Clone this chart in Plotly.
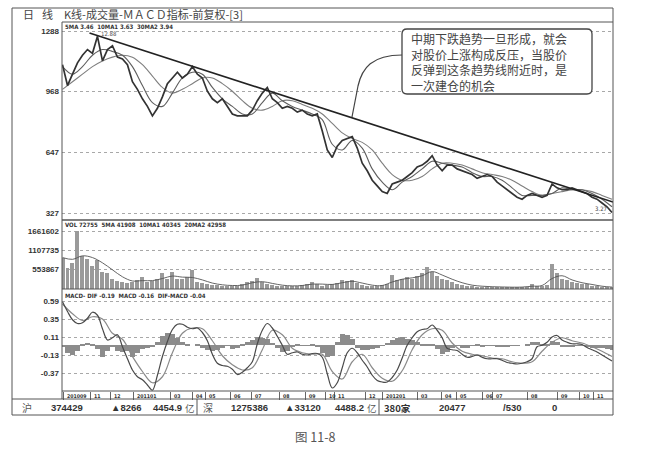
import plotly.graph_objects as go

W, H = 646, 451

# ---------------- data ----------------
# trading-day index of each sample (every 5th / 10th session)
days5 = list(range(0, 551, 5))
days10 = list(range(0, 551, 10))

close = [11.1, 10.0, 10.6, 11.2, 11.6, 11.9, 11.7, 12.6, 11.3, 11.9,
         12.1, 11.5, 11.4, 11.1, 10.2, 9.8, 9.3, 8.9, 8.4, 8.8,
         9.4, 10.1, 10.4, 10.7, 10.4, 10.6, 11.0, 10.6, 10.4, 9.7,
         9.3, 9.1, 9.3, 8.9, 8.5, 8.4, 8.4, 8.4, 8.7, 9.2,
         9.6, 9.9, 9.3, 9.1, 8.8, 8.9, 8.8, 8.6, 8.7, 8.5,
         8.4, 8.5, 7.6, 6.6, 6.2, 6.8, 7.1, 7.2, 7.3, 6.7,
         5.9, 5.5, 5.0, 4.7, 4.4, 4.3, 4.8, 4.9, 5.0, 5.2,
         5.4, 5.7, 5.8, 6.0, 6.3, 5.8, 5.5, 5.8, 5.8, 5.6,
         5.5, 5.4, 5.3, 5.1, 5.2, 5.3, 5.2, 4.9, 4.7, 4.5,
         4.3, 4.1, 4.0, 4.2, 4.3, 4.2, 4.1, 4.2, 4.8, 4.6,
         4.5, 4.5, 4.6, 4.5, 4.4, 4.3, 4.1, 4.0, 3.8, 3.6,
         3.3]

ma10 = [11.0, 10.6, 11.0, 11.6, 11.9, 11.8, 11.6, 11.0, 10.0, 9.1,
        8.9, 9.6, 10.4, 10.7, 10.6, 9.9, 9.3, 8.9, 8.5, 8.5,
        9.1, 9.6, 9.2, 8.9, 8.7, 8.5, 8.2, 6.9, 6.6, 7.1,
        6.7, 5.6, 4.9, 4.5, 4.9, 5.2, 5.6, 6.0, 5.9, 5.8,
        5.7, 5.4, 5.2, 5.2, 5.0, 4.6, 4.2, 4.2, 4.2, 4.3,
        4.6, 4.5, 4.5, 4.3, 4.0, 3.6]

ma30 = [9.8, 10.2, 10.6, 11.0, 11.3, 11.5, 11.6, 11.5, 11.1, 10.5,
        9.9, 9.6, 9.8, 10.1, 10.4, 10.4, 10.1, 9.7, 9.2, 8.8,
        8.7, 8.9, 9.2, 9.2, 9.0, 8.8, 8.5, 8.0, 7.5, 7.2,
        7.0, 6.6, 5.9, 5.3, 5.0, 5.0, 5.2, 5.6, 5.9, 5.9,
        5.8, 5.6, 5.4, 5.3, 5.2, 5.0, 4.7, 4.4, 4.2, 4.3,
        4.4, 4.5, 4.5, 4.4, 4.2, 4.0]

volume_k = [900, 600, 750, 1660, 950, 850, 650, 820, 500, 450,
            300, 220, 200, 180, 190, 250, 340, 200, 230, 280,
            450, 300, 480, 300, 280, 340, 540, 200, 160, 130,
            120, 110, 100, 90, 90, 100, 150, 200, 230, 310,
            200, 150, 110, 100, 90, 80, 80, 90, 120, 150,
            200, 130, 100, 120, 150, 180, 260, 220, 250, 180,
            120, 100, 90, 100, 110, 150, 400, 250, 280, 340,
            300, 380, 450, 630, 500, 380, 300, 250, 200, 150,
            120, 90, 80, 70, 70, 60, 60, 60, 55, 50,
            50, 50, 55, 60, 150, 100, 80, 120, 720, 450,
            300, 250, 200, 180, 150, 130, 100, 80, 60, 50,
            40]

vol_ma_k = [900, 850, 950, 900, 750, 550, 350, 230, 240, 240,
            300, 370, 340, 330, 260, 170, 120, 100, 110, 180,
            210, 160, 110, 90, 100, 140, 140, 130, 180, 220,
            170, 110, 100, 200, 280, 320, 380, 500, 400, 280,
            180, 110, 80, 65, 58, 52, 55, 80, 100, 300,
            380, 260, 180, 130, 80, 55]

dif = [0.58, 0.45, 0.34, 0.29, 0.30, 0.36, 0.44, 0.40, 0.22, 0.07,
       0.10, 0.14, -0.02, -0.18, -0.33, -0.42, -0.46, -0.53, -0.60, -0.40,
       -0.15, 0.05, 0.21, 0.28, 0.28, 0.24, 0.22, 0.23, 0.17, 0.06,
       -0.12, -0.24, -0.27, -0.28, -0.32, -0.39, -0.36, -0.30, -0.22, 0.02,
       0.20, 0.29, 0.23, 0.12, 0.0, -0.12, -0.10, -0.09, -0.12, -0.13,
       -0.11, -0.11, -0.16, -0.38, -0.57, -0.50, -0.30, -0.10, -0.04, -0.10,
       -0.20, -0.29, -0.40, -0.47, -0.49, -0.49, -0.43, -0.33, -0.17, 0.0,
       0.10, 0.18, 0.21, 0.22, 0.27, 0.20, 0.10, -0.04, -0.06, -0.07,
       -0.12, -0.16, -0.15, -0.13, -0.16, -0.18, -0.18, -0.18, -0.20, -0.23,
       -0.24, -0.25, -0.24, -0.22, -0.18, -0.02, 0.0, 0.04, 0.11, 0.13,
       0.07, 0.04, 0.02, 0.02, 0.01, -0.03, -0.06, -0.09, -0.13, -0.17,
       -0.21]

dea = [0.55, 0.42, 0.33, 0.38, 0.35, 0.16, 0.08, -0.15, -0.35, -0.50,
       -0.42, -0.10, 0.16, 0.23, 0.22, 0.06, -0.14, -0.26, -0.33, -0.30,
       -0.06, 0.20, 0.14, -0.04, -0.10, -0.12, -0.12, -0.35, -0.45, -0.22,
       -0.12, -0.30, -0.44, -0.48, -0.34, -0.06, 0.14, 0.22, 0.20, 0.03,
       -0.08, -0.12, -0.14, -0.17, -0.18, -0.22, -0.24, -0.22, -0.08, 0.04,
       0.10, 0.06, 0.03, -0.02, -0.08, -0.15]

macd_hist = [-0.02, -0.10, -0.13, -0.08, 0.02, 0.03, 0.01, -0.05, -0.16, -0.08,
             -0.02, -0.07, -0.09, -0.08, -0.15, -0.10, -0.05, -0.03, -0.02, 0.05,
             0.12, 0.17, 0.15, 0.10, 0.05, 0.01, 0.0, 0.01, -0.03, -0.06,
             -0.07, -0.06, -0.03, -0.01, -0.05, -0.04, 0.01, 0.04, 0.07, 0.11,
             0.10, 0.08, 0.03, -0.04, -0.09, -0.07, -0.02, 0.01, -0.01, -0.01,
             0.01, -0.02, -0.10, -0.16, -0.14, 0.04, 0.15, 0.14, 0.08, -0.03,
             -0.06, -0.06, -0.05, -0.03, -0.01, 0.03, 0.07, 0.10, 0.11, 0.09,
             0.07, 0.04, 0.02, 0.02, 0.02, -0.05, -0.12, -0.09, -0.03, -0.01,
             -0.03, -0.04, -0.01, 0.01, -0.02, -0.01, -0.01, -0.02, -0.02, -0.02,
             -0.01, -0.01, 0.0, 0.02, 0.05, 0.04, 0.01, 0.02, 0.06, 0.04,
             -0.02, -0.02, -0.02, -0.01, -0.01, -0.02, -0.03, -0.03, -0.04, -0.05,
             -0.06]

trend_days = [27, 551]
trend_price = [12.77, 3.85]

price_ticks = [12.88, 9.68, 6.47, 3.27]
price_tick_text = ["1288", "968", "647", "327"]
vol_ticks_k = [553.867, 1107.735, 1661.602]
vol_tick_text = ["553867", "1107735", "1661602"]
macd_ticks = [0.59, 0.35, 0.11, -0.13, -0.37]
macd_tick_text = ["0.59", "0.35", "0.11", "-0.13", "-0.37"]

month_days = [0.5, 28, 48, 71, 108, 130, 143, 168, 189, 217, 243, 263, 272,
              303, 320, 355, 379, 394, 420, 430, 465, 495, 517, 531]
month_labels = ["201009", "11", "12", "201101", "03", "04", "05", "06", "07",
                "08", "09", "10", "11", "12", "201201", "03", "04", "05",
                "06", "07", "08", "09", "10", "11"]

# ---------------- helpers (pixel -> paper) ----------------
def px(x):
    return x / W


def py(y):
    return 1 - y / H


X0, X1 = 62, 613
XDOM = [px(X0), px(X1)]
NUM_FONT = "Liberation Sans"
COND = "DejaVu Sans Condensed"
CJK = "Noto Sans CJK SC"

fig = go.Figure()

# price panel
fig.add_trace(go.Scatter(x=days10, y=ma30, mode="lines", line=dict(color="#7e7e7e", width=1.1, shape="spline"),
                         xaxis="x", yaxis="y", hoverinfo="skip"))
fig.add_trace(go.Scatter(x=days10, y=ma10, mode="lines", line=dict(color="#5e5e5e", width=1.1, shape="spline"),
                         xaxis="x", yaxis="y", hoverinfo="skip"))
fig.add_trace(go.Scatter(x=days5, y=close, mode="lines", line=dict(color="#333333", width=1.7),
                         xaxis="x", yaxis="y"))
fig.add_trace(go.Scatter(x=trend_days, y=trend_price, mode="lines", line=dict(color="#222222", width=1.6),
                         xaxis="x", yaxis="y", hoverinfo="skip"))

# volume panel
fig.add_trace(go.Bar(x=days5, y=volume_k, width=4, marker=dict(color="#9a9a9a", line=dict(width=0)),
                     xaxis="x2", yaxis="y2"))
fig.add_trace(go.Scatter(x=days10, y=vol_ma_k, mode="lines", line=dict(color="#555555", width=0.9, shape="spline"),
                         xaxis="x2", yaxis="y2", hoverinfo="skip"))

# MACD panel
fig.add_trace(go.Bar(x=days5, y=macd_hist, width=5, marker=dict(color="#8c8c8c", line=dict(width=0)),
                     xaxis="x3", yaxis="y3"))
fig.add_trace(go.Scatter(x=days10, y=dea, mode="lines", line=dict(color="#8a8a8a", width=1.2, shape="spline"),
                         xaxis="x3", yaxis="y3", hoverinfo="skip"))
fig.add_trace(go.Scatter(x=days5, y=dif, mode="lines", line=dict(color="#4a4a4a", width=1.2, shape="spline"),
                         xaxis="x3", yaxis="y3"))

tickfont = dict(family=NUM_FONT, size=8, color="#333333", weight="bold")
common_y = dict(showgrid=True, gridcolor="#a8a8a8", griddash="dot", gridwidth=1, zeroline=False,
                ticks="", tickfont=tickfont, showline=False, fixedrange=True, ticklabelstandoff=2)
common_x = dict(domain=XDOM, range=[-0.5, 551], showgrid=False, zeroline=False, showline=False,
                showticklabels=False, fixedrange=True)

fig.update_layout(
    width=W, height=H, margin=dict(l=0, r=0, t=0, b=0),
    paper_bgcolor="white", plot_bgcolor="white", showlegend=False, bargap=0,
    xaxis=dict(anchor="y", ticks="", **common_x),
    xaxis2=dict(anchor="y2", ticks="", **common_x),
    xaxis3=dict(anchor="y3", tickvals=month_days, ticks="outside", ticklen=8, tickcolor="#666666",
                tickwidth=1, **common_x),
    yaxis=dict(domain=[py(220), py(22)], range=[2.901, 13.355], tickvals=price_ticks,
               ticktext=price_tick_text, anchor="x", **common_y),
    yaxis2=dict(domain=[py(289), py(220)], range=[0, 1976.7], tickvals=vol_ticks_k,
                ticktext=vol_tick_text, anchor="x2", **common_y),
    yaxis3=dict(domain=[py(391), py(289)], range=[-0.61, 0.75], tickvals=macd_ticks,
                ticktext=macd_tick_text, anchor="x3", **common_y),
)

# ---------------- frame lines ----------------
def hline(y, x0, x1, w=1, c="#555555"):
    fig.add_shape(type="line", xref="paper", yref="paper", x0=px(x0), x1=px(x1), y0=py(y), y1=py(y),
                  line=dict(color=c, width=w))


def vline(x, y0, y1, w=1, c="#555555"):
    fig.add_shape(type="line", xref="paper", yref="paper", x0=px(x), x1=px(x), y0=py(y0), y1=py(y1),
                  line=dict(color=c, width=w))


fig.add_shape(type="rect", xref="paper", yref="paper", x0=px(12), x1=px(613), y0=py(415), y1=py(8),
              line=dict(color="#555555", width=1))
hline(22, 62, 613)
hline(220, 62, 613, 1.6)
hline(289, 62, 613, 1.2)
hline(391, 62, 613)
hline(399, 12, 613)
vline(62, 22, 399)
vline(197, 399, 415)
vline(379, 399, 415)

# ---------------- callout ----------------
def P(x, y):
    return f"{px(x):.5f},{py(y):.5f}"


def rounded_rect(x0, y0, x1, y1, r):
    return (f"M {P(x0 + r, y0)} L {P(x1 - r, y0)} Q {P(x1, y0)} {P(x1, y0 + r)} "
            f"L {P(x1, y1 - r)} Q {P(x1, y1)} {P(x1 - r, y1)} L {P(x0 + r, y1)} "
            f"Q {P(x0, y1)} {P(x0, y1 - r)} L {P(x0, y0 + r)} Q {P(x0, y0)} {P(x0 + r, y0)} Z")


fig.add_shape(type="path", xref="paper", yref="paper", path=rounded_rect(402, 29, 592, 94, 5),
              line=dict(color="#444444", width=1.3), fillcolor="white")
fig.add_shape(type="path", xref="paper", yref="paper",
              path=f"M {P(402, 55)} C {P(372, 55)} {P(362, 68)} {P(358, 86)} L {P(352, 117)}",
              line=dict(color="#444444", width=1.2))

callout_text = ("中期下跌趋势一旦形成，就会<br>对股价上涨构成反压，当股价<br>"
                "反弹到这条趋势线附近时，是<br>一次建仓的机会")
fig.add_annotation(x=px(409), y=py(62), xref="paper", yref="paper", text=callout_text,
                   showarrow=False, xanchor="left", yanchor="middle", align="left",
                   font=dict(family=CJK, size=12, color="#444444"))

# ---------------- texts ----------------
def text(x, y, t, size=8, color="#333333", family=NUM_FONT, anchor="left", weight="normal"):
    fig.add_annotation(x=px(x), y=py(y), xref="paper", yref="paper", text=t, showarrow=False,
                       xanchor=anchor, yanchor="middle",
                       font=dict(family=family, size=size, color=color, weight=weight))


text(21, 14.5, "日", 11, "#444444", CJK)
text(40, 14.5, "线", 11, "#444444", CJK)
text(62, 14.5, "K线-成交量-ＭＡＣＤ指标-前复权-[3]", 11, "#444444", CJK)

text(63, 27, "5MA 3.46  10MA1 3.63  30MA2 3.94", 6, "#333333", COND, weight="bold")
text(63, 224, "VOL 72755  5MA 41908  10MA1 40345  20MA2 42958", 6, "#333333", COND, weight="bold")
text(63, 295, "MACD- DIF -0.19  MACD -0.16  DIF-MACD -0.04", 6, "#333333", COND, weight="bold")
text(99, 33.5, "12.88", 6, "#555555", COND)
text(593, 209, "3.27", 6, "#444444", COND)

for d, lab in zip(month_days, month_labels):
    fig.add_annotation(x=d + 1.5, y=py(395.5), xref="x3", yref="paper", text=lab, showarrow=False,
                       xanchor="left", yanchor="middle",
                       font=dict(family=COND, size=5.2, color="#333333", weight="bold"))

# status row
ST_Y = 407.5
text(20, ST_Y, "沪", 10, "#555555", CJK)
text(67, ST_Y, "374429", 9.5, "#333333", anchor="center", weight="bold")
text(126, ST_Y, "▲8266", 9.5, "#333333", anchor="center", weight="bold")
text(151, ST_Y, "4454.9", 9.5, "#333333", weight="bold")
text(183, ST_Y, "亿", 9.5, "#555555", CJK)
text(201, ST_Y, "深", 10, "#555555", CJK)
text(249, ST_Y, "1275386", 9.5, "#333333", anchor="center", weight="bold")
text(303, ST_Y, "▲33120", 9.5, "#333333", anchor="center", weight="bold")
text(333, ST_Y, "4488.2", 9.5, "#333333", weight="bold")
text(365, ST_Y, "亿", 9.5, "#555555", CJK)
text(382, ST_Y, "380家", 9.5, "#333333", CJK, weight="bold")
text(437, ST_Y, "20477", 9.5, "#333333", weight="bold")
text(501, ST_Y, "/530", 9.5, "#333333", weight="bold")
text(550, ST_Y, "0", 9.5, "#333333", weight="bold")

# caption
text(315, 436, "图 11-8", 12.5, "#555555", CJK, anchor="center")

fig.write_html("out.html", post_script="document.body.style.margin='0';",
               config={"displayModeBar": False})
